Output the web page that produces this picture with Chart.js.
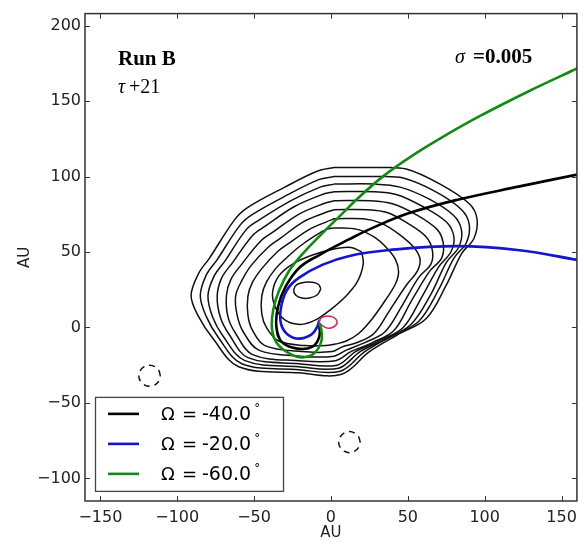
<!DOCTYPE html>
<html>
<head>
<meta charset="utf-8">
<script src="https://cdn.jsdelivr.net/npm/chart.js@4"></script>
<style>
  html, body { margin: 0; padding: 0; background: #fff; }
  #wrap { width: 584px; height: 545px; }
</style>
</head>
<body>
<div id="wrap"><canvas id="myChart" width="584" height="545"></canvas></div>
<script>
// axis ticks
const xTicks = [-150, -100, -50, 0, 50, 100, 150];
const yTicks = [-100, -50, 0, 50, 100, 150, 200];

// density contours, outermost first (AU)
const contour1 = [[2,106],[31,106],[49,105],[71,95],[90,82],[95,72],[93,59],[85,49],[75,28],[62,6],[43,-5],[25,-16],[7,-31],[-21,-30],[-60,-26],[-77,-7],[-86,7],[-91,21],[-86,36],[-79,46],[-63,71],[-55,79],[-30,93],[-9,103.5],[2,106]];
const contour2 = [[2,100],[30,100],[47,99],[68,90],[85,78],[90,68],[88,56],[80,46],[70,25],[57,4],[39,-6],[22,-16],[6,-29],[-21,-28],[-58,-24],[-73,-7],[-81,7],[-85,21],[-81,35],[-74,45],[-59,68],[-51,75],[-28,88],[-8,98],[2,100]];
const contour3 = [[2,95],[29,95],[45,93],[64,85],[80,74],[85,64],[83,53],[75,43],[65,22],[52,2],[35,-8],[19,-16],[5,-27],[-21,-26],[-56,-22],[-70,-6],[-77,7],[-80,21],[-76,34],[-69,44],[-55,65],[-47,71],[-26,84],[-7,93],[2,95]];
const contour4 = [[2,90],[28,90],[43,88],[60,80],[75,70],[80,60],[78,50],[70,40],[59,20],[47,0],[31,-9],[16,-16],[4,-25],[-21,-24],[-54,-20],[-66,-5],[-72,7],[-74,21],[-71,33],[-64,43],[-51,61],[-43,67],[-24,80],[-6,88],[2,90]];
const contour5 = [[2,84],[26,84],[40,82],[55,75],[69,65],[73,56],[72,46],[64,37],[52,17],[41,-2],[27,-10],[13,-16],[3,-22],[-21,-22],[-51,-18],[-62,-4],[-67,7],[-68,21],[-65,32],[-58,42],[-46,57],[-38,63],[-21,75],[-5,82],[2,84]];
const contour6 = [[2,78],[24,78],[37,76],[50,69],[62,60],[66,51],[65,42],[57,33],[46,14],[35,-3],[22,-10],[10,-15],[2,-19],[-20,-19],[-47,-15],[-57,-3],[-61,8],[-62,21],[-58,31],[-52,41],[-41,53],[-33,59],[-18,70],[-4,76],[2,78]];
const contour7 = [[2,72],[21,72],[33,69],[44,62],[54,53],[58,45],[56,37],[49,28],[38,11],[28,-4],[17,-10],[7,-13],[1,-16],[-19,-16],[-43,-12],[-51,-2],[-54,8],[-54,21],[-51,30],[-45,39],[-35,50],[-27,56],[-14,65],[-3,70],[2,72]];
const contour8 = [[2,66],[17,65],[28,60],[36,53],[42,45],[44,37],[42,29],[36,19],[27,6],[18,-4],[10,-9],[3,-11],[-3,-12],[-17,-12],[-34,-9],[-42,0],[-45,9],[-45,21],[-42,30],[-36,39],[-28,47],[-20,54],[-10,61],[-3,65],[2,66]];
const contour9 = [[20,50],[21,42],[17,30],[9,20],[0,12],[-10,5],[-20,2],[-30,5],[-36,13],[-38,23],[-34,34],[-25,42],[-12,48],[2,52],[13,53],[20,50]];
const contour10 = [[-6.6,25.5],[-8,28.5],[-12,30],[-17,30],[-22,28.5],[-24.2,25],[-23,21.5],[-19,19.5],[-14,19.5],[-9,21.5],[-6.6,25.5]];
const contours = [contour1, contour2, contour3, contour4, contour5, contour6, contour7, contour8, contour9, contour10];

// orbit tracks for each Omega
const trackSymbols = ['Ω', 'Ω', 'Ω'];
const trackValues = ['-40.0', '-20.0', '-60.0'];
const trackColors = ['#000000', '#1414cc', '#138a13'];
const trackOrder = [2, 1, 0];
const trackBlack = [[160.6,101.4],[122.7,93.5],[81.7,84.5],[50,75.5],[26,65.5],[12,58.5],[-7.6,48],[-20.6,39.6],[-29.5,27],[-34.5,13.5],[-35.5,0.5],[-32,-9.6],[-22,-14],[-12,-12.7],[-7.6,-6],[-7.6,2.4]];
const trackBlue = [[160.6,44.7],[122.7,51.2],[81.7,53.9],[38,51.3],[12,47.4],[-5.7,41.5],[-20.7,33],[-28.5,25],[-32.5,13.3],[-32.5,2.4],[-28,-4.8],[-20.7,-7.4],[-12.8,-4.8],[-8.9,0.5],[-7.6,5]];
const trackGreen = [[160.6,171.9],[129.3,156.9],[96.7,140],[70.6,125],[51,112.6],[34.7,100.8],[18.4,86.5],[5.4,73.5],[-6.3,61.7],[-17.4,50],[-27.2,37.6],[-33.7,24.6],[-37.6,11.5],[-38.3,-1.5],[-35,-10.6],[-27.2,-17.1],[-18.7,-19.8],[-10.9,-17.1],[-6.3,-9.3],[-6.3,-1.5],[-7.6,2.4]];
const tracks = [trackBlack, trackBlue, trackGreen];

// small loop near the origin
const redLoop = [[-8,4],[-6,6.5],[-2,7.5],[2,6.5],[4,3.5],[2,0.5],[-2,-0.5],[-6,1.5],[-8,4]];

// dashed rings
const ring1 = [[-111,-32],[-112,-28.5],[-114.5,-26],[-118,-25],[-121.5,-26],[-124,-28.5],[-125,-32],[-124,-35.5],[-121.5,-38],[-118,-39],[-114.5,-38],[-112,-35.5],[-111,-32]];
const ring2 = [[19,-76],[18,-72.5],[15.5,-70],[12,-69],[8.5,-70],[6,-72.5],[5,-76],[6,-79.5],[8.5,-82],[12,-83],[15.5,-82],[18,-79.5],[19,-76]];

const toPts = arr => arr.map(p => ({x: p[0], y: p[1]}));
const minus = v => v < 0 ? '\u2212' + Math.abs(v) : String(v);

const datasets = [];
tracks.forEach((t, i) => {
    datasets.push({
        label: trackSymbols[i] + ' = ' + trackValues[i] + '°',
        data: toPts(t),
        showLine: true,
        borderColor: trackColors[i],
        borderWidth: 2.6,
        pointRadius: 0,
        tension: 0.4,
        order: trackOrder[i]
    });
});
datasets.push({
    label: 'loop',
    data: toPts(redLoop),
    showLine: true,
    borderColor: '#d0306a',
    borderWidth: 1.6,
    pointRadius: 0,
    tension: 0.4,
    order: 0
});
contours.forEach((c, i) => {
    datasets.push({
        label: 'c' + i,
        data: toPts(c),
        showLine: true,
        borderColor: '#111',
        borderWidth: 1.5,
        pointRadius: 0,
        tension: 0.35,
        order: 3
    });
});
[ring1, ring2].forEach((r, i) => {
    datasets.push({
        label: 'ring' + i,
        data: toPts(r),
        showLine: true,
        borderColor: '#111',
        borderWidth: 1.5,
        borderDash: [6, 5],
        pointRadius: 0,
        tension: 0.4,
        order: 3
    });
});

const decor = {
    id: 'decor',
    afterDatasetsDraw(chart) {
        const ctx = chart.ctx;
        const a = chart.chartArea;
        const xs = chart.scales.x, ys = chart.scales.y;
        ctx.save();
        // frame
        ctx.strokeStyle = '#333';
        ctx.lineWidth = 1.5;
        ctx.strokeRect(a.left, a.top, a.right - a.left, a.bottom - a.top);
        // inward ticks on all sides
        ctx.lineWidth = 1;
        ctx.beginPath();
        xTicks.forEach(v => {
            const px = Math.round(xs.getPixelForValue(v)) + 0.5;
            ctx.moveTo(px, a.bottom); ctx.lineTo(px, a.bottom - 5);
            ctx.moveTo(px, a.top); ctx.lineTo(px, a.top + 5);
        });
        yTicks.forEach(v => {
            const py = Math.round(ys.getPixelForValue(v)) + 0.5;
            ctx.moveTo(a.left, py); ctx.lineTo(a.left + 5, py);
            ctx.moveTo(a.right, py); ctx.lineTo(a.right - 5, py);
        });
        ctx.stroke();

        // annotations
        ctx.fillStyle = '#000';
        ctx.textBaseline = 'alphabetic';
        ctx.font = 'bold 21px "Liberation Serif", "DejaVu Serif", serif';
        ctx.fillText('Run B', a.left + 33, a.top + 51);
        ctx.font = 'italic 20px "Liberation Serif", "DejaVu Serif", serif';
        ctx.fillText('τ', a.left + 33, a.top + 79);
        ctx.font = '20px "Liberation Serif", "DejaVu Serif", serif';
        ctx.fillText('+21', a.left + 44, a.top + 79);
        ctx.font = 'italic 20px "Liberation Serif", "DejaVu Serif", serif';
        ctx.fillText('σ', a.left + 370, a.top + 49);
        ctx.font = 'bold 21px "Liberation Serif", "DejaVu Serif", serif';
        ctx.fillText('=0.005', a.left + 388, a.top + 49);

        // legend box
        const lx = a.left + 10, ly = ys.getPixelForValue(-46), lw = 188, lh = 94;
        ctx.fillStyle = '#fff';
        ctx.fillRect(lx, ly, lw, lh);
        ctx.strokeStyle = '#444';
        ctx.lineWidth = 1.3;
        ctx.strokeRect(lx + 0.5, ly + 0.5, lw, lh);
        ctx.textBaseline = 'middle';
        trackValues.forEach((val, i) => {
            const yy = ly + 17 + i * 30;
            ctx.strokeStyle = trackColors[i];
            ctx.lineWidth = 2.6;
            ctx.beginPath();
            ctx.moveTo(lx + 13, yy); ctx.lineTo(lx + 44, yy);
            ctx.stroke();
            ctx.fillStyle = '#000';
            ctx.font = '18px "DejaVu Sans", sans-serif';
            ctx.fillText(trackSymbols[i], lx + 66, yy + 1);
            ctx.fillText('=', lx + 87, yy + 1);
            ctx.font = '19px "DejaVu Sans", sans-serif';
            ctx.fillText(val, lx + 107, yy + 1);
            const w = ctx.measureText(val).width;
            ctx.font = '12px "DejaVu Sans", sans-serif';
            ctx.fillText('°', lx + 110 + w, yy - 5);
        });
        ctx.restore();
    }
};

const ctx = document.getElementById('myChart').getContext('2d');
new Chart(ctx, {
    type: 'scatter',
    data: { datasets: datasets },
    options: {
        responsive: false,
        animation: false,
        events: [],
        layout: { padding: { left: 0, right: 6, top: 6, bottom: 0 } },
        plugins: { legend: { display: false }, tooltip: { enabled: false } },
        scales: {
            x: {
                min: -160, max: 160,
                afterBuildTicks: s => { s.ticks = xTicks.map(v => ({value: v})); },
                afterFit: s => { s.height = 44; },
                grid: { display: false, drawTicks: false },
                border: { display: false },
                ticks: { color: '#222', padding: 7, maxRotation: 0, font: { family: 'DejaVu Sans', size: 16 }, callback: v => minus(v) },
                title: { display: true, text: 'AU', color: '#222', padding: { top: 0, bottom: 3 }, font: { family: 'DejaVu Sans', size: 15 } }
            },
            y: {
                min: -115, max: 208,
                afterBuildTicks: s => { s.ticks = yTicks.map(v => ({value: v})); },
                afterFit: s => { s.width = 85; },
                grid: { display: false, drawTicks: false },
                border: { display: false },
                ticks: { color: '#222', padding: 4, font: { family: 'DejaVu Sans', size: 16 }, callback: v => minus(v) },
                title: { display: true, text: 'AU', color: '#222', padding: { top: 16, bottom: 0 }, font: { family: 'DejaVu Sans', size: 15 } }
            }
        }
    },
    plugins: [decor]
});
</script>
</body>
</html>
